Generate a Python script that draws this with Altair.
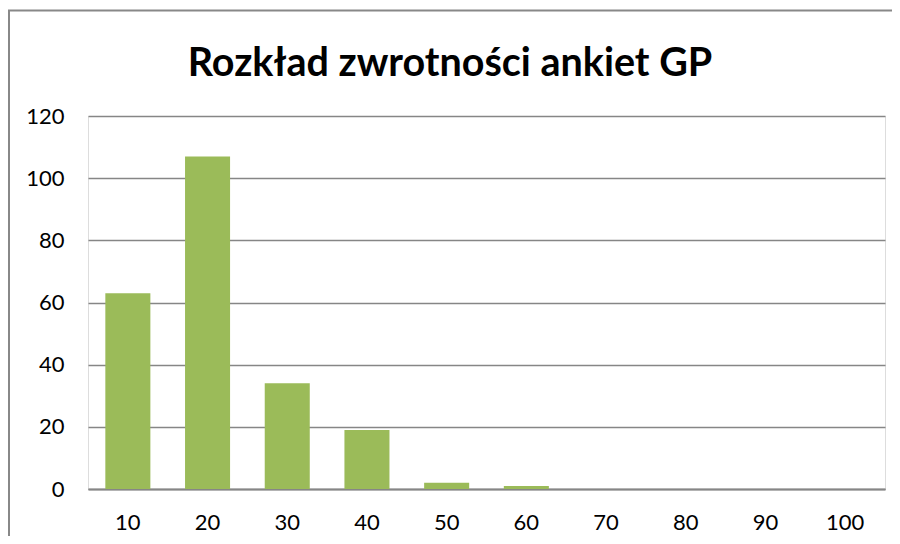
import altair as alt
import pandas as pd

categories = ["10", "20", "30", "40", "50", "60", "70", "80", "90", "100"]
values = [63, 107, 34, 19, 2, 1, 0, 0, 0, 0]
title_text = "Rozkład zwrotności ankiet GP"

df = pd.DataFrame({"cat": categories, "val": values})

FONT = "Lato"
W, H = 797, 373

base = alt.Chart(df)

bars = base.mark_bar(color="#9BBB59", clip=False).encode(
    x=alt.X("cat:N", sort=categories,
            scale=alt.Scale(paddingInner=0.435, paddingOuter=0.2175),
            axis=alt.Axis(title=None, labelAngle=0, labelFont=FONT, labelFontSize=22,
                          labelColor="#000000", labelPadding=23, ticks=False,
                          domainColor="#868686", domainWidth=2, grid=False)),
    y=alt.Y("val:Q", scale=alt.Scale(domain=[0, 120], nice=False),
            axis=alt.Axis(title=None, values=[0, 20, 40, 60, 80, 100, 120],
                          labelFont=FONT, labelFontSize=22, labelColor="#000000",
                          labelPadding=24, ticks=False, domain=False,
                          grid=True, gridColor="#868686", gridWidth=1.5)),
)

border_top = alt.Chart(pd.DataFrame({"k": [0]})).mark_rule(
    stroke="#888888", strokeWidth=2, clip=False).encode(
    x=alt.value(-80), x2=alt.value(804), y=alt.value(-105.5),
)
border_left = alt.Chart(pd.DataFrame({"k": [0]})).mark_rule(
    stroke="#888888", strokeWidth=2, clip=False).encode(
    x=alt.value(-79), y=alt.value(-106), y2=alt.value(420),
)

title = alt.Chart(pd.DataFrame({"t": [title_text]})).mark_text(
    font=FONT, fontSize=39.5, fontWeight="bold", color="#000000",
    align="center", baseline="alphabetic", clip=False).encode(
    x=alt.value(362), y=alt.value(-40), text="t:N"
)

chart = alt.layer(border_top, border_left, bars, title).properties(
    width=W, height=H,
    autosize=alt.AutoSizeParams(type="none"),
    padding={"left": 80, "top": 108, "right": 7, "bottom": 47},
).configure_view(strokeWidth=0).configure(background="#ffffff")

chart.save("out.html", embed_options={"renderer": "svg", "actions": False})
